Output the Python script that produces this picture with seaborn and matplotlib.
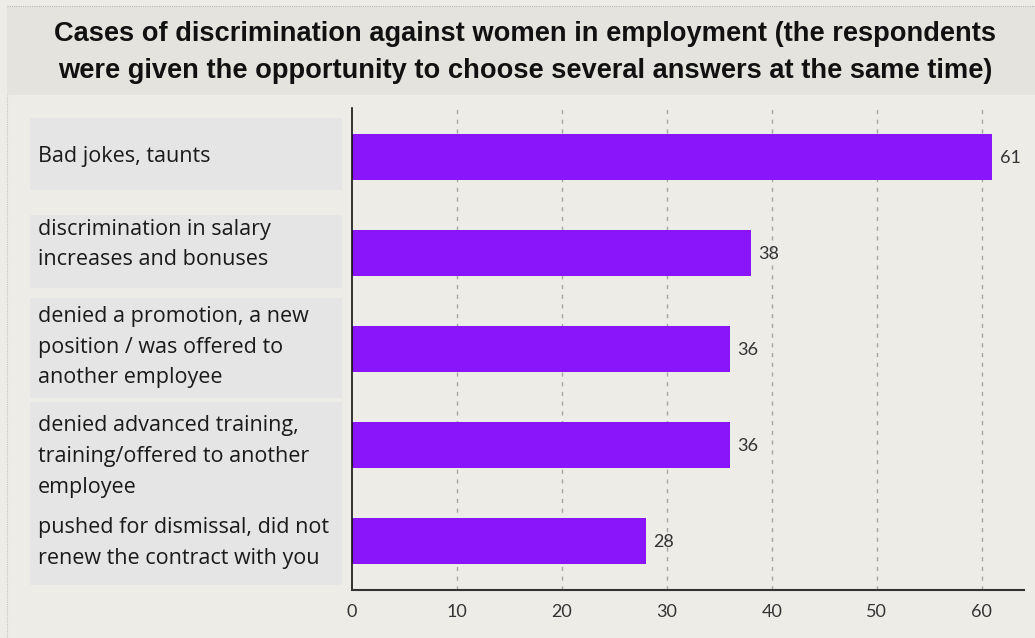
import matplotlib
matplotlib.use("Agg")
import matplotlib.pyplot as plt
import matplotlib.transforms as mtransforms
from matplotlib.patches import Rectangle
from matplotlib.lines import Line2D
import seaborn as sns
import pandas as pd

# Chart data
categories = [
    "Bad jokes, taunts",
    "discrimination in salary\nincreases and bonuses",
    "denied a promotion, a new\nposition / was offered to\nanother employee",
    "denied advanced training,\ntraining/offered to another\nemployee",
    "pushed for dismissal, did not\nrenew the contract with you",
]
values = [61, 38, 36, 36, 28]
x_ticks = [0, 10, 20, 30, 40, 50, 60]
title = ("Cases of discrimination against women in employment (the respondents\n"
         "were given the opportunity to choose several answers at the same time)")

# Layout of the grey label panels (top, bottom in category units) and text centres
panel_spans = [(-0.41, 0.34), (0.60, 1.36), (1.47, 2.51), (2.55, 3.47), (3.47, 4.46)]
text_centres = [-0.01, 0.91, 1.98, 3.12, 4.02]

df = pd.DataFrame({"category": categories, "value": values})

sns.set_theme(style="white")
bg = "#eeece7"
bar_color = "#8a14fa"

fig = plt.figure(figsize=(10.35, 6.38), dpi=100, facecolor=bg)

# Title band with a faint dotted frame
fig.patches.append(Rectangle((7 / 1035, 1 - 95 / 638), 1 - 7 / 1035, 88 / 638,
                             transform=fig.transFigure, facecolor="#e4e3de",
                             edgecolor="none", zorder=0))
fig.add_artist(Line2D([7 / 1035, 1], [1 - 6 / 638, 1 - 6 / 638], transform=fig.transFigure,
                      color="#b5b5b5", linestyle=(0, (1, 1)), linewidth=0.8))
fig.add_artist(Line2D([7 / 1035, 7 / 1035], [0, 1 - 95 / 638], transform=fig.transFigure,
                      color="#c5c5c5", linestyle=(0, (1, 1)), linewidth=0.8))
fig.text(525 / 1035, 1 - 52.5 / 638, title, ha="center", va="center",
         family=["Liberation Sans", "DejaVu Sans"],
         fontweight="bold", fontsize=19.6, color="#111111", linespacing=1.55)

ax = fig.add_axes([352 / 1035, 1 - 590 / 638, (1030 - 352) / 1035, (590 - 108) / 638])
ax.set_facecolor("none")

sns.barplot(data=df, x="value", y="category", color=bar_color, saturation=1,
            width=0.48, ax=ax, orient="h", linewidth=0, edgecolor="none", zorder=2)

ax.set_xlim(0, 64.6)
ax.set_ylim(4.51, -0.51)
ax.set_xticks(x_ticks)
ax.set_xticklabels([str(t) for t in x_ticks], family="Lato", fontsize=13, color="#333333")
ax.tick_params(axis="x", length=0, pad=10)
ax.set_yticks([])
ax.set_xlabel("")
ax.set_ylabel("")

# Dashed vertical gridlines
for t in x_ticks[1:]:
    ax.axvline(t, color="#a5a5a5", linestyle=(0, (3, 4)), linewidth=1, zorder=0)

for side in ["top", "right"]:
    ax.spines[side].set_visible(False)
ax.spines["left"].set_color("#111111")
ax.spines["bottom"].set_color("#333333")
ax.spines["left"].set_linewidth(1.2)
ax.spines["bottom"].set_linewidth(1.5)
ax.spines["bottom"].set_bounds(0, 64.0)

# Value labels
for i, v in enumerate(values):
    ax.text(v + 0.7, i + 0.01, str(v), va="center", ha="left", family="Lato",
            fontsize=13, color="#333333")

# Category label panels on the left
blend = mtransforms.blended_transform_factory(fig.transFigure, ax.transData)
box_x0 = 30 / 1035
box_w = (342 - 30) / 1035
for cat, (top, bottom), yc in zip(categories, panel_spans, text_centres):
    ax.add_patch(Rectangle((box_x0, top), box_w, bottom - top, transform=blend,
                           facecolor="#e6e5e6", edgecolor="none", clip_on=False, zorder=0))
    ax.text(38 / 1035, yc, cat, transform=blend, ha="left", va="center",
            family=["Open Sans", "DejaVu Sans"], fontsize=15.5, color="#1a1a1a",
            linespacing=1.6, clip_on=False)

fig.savefig("out.png", dpi=100, facecolor=bg)
